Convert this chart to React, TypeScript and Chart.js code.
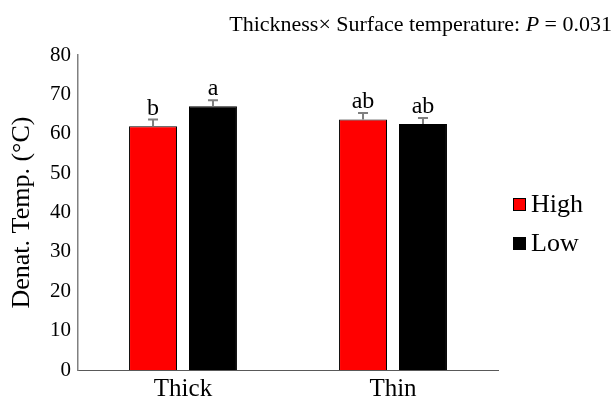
import React, { useEffect, useRef } from "react";
import { Chart, registerables } from "chart.js";

Chart.register(...registerables);

const categories = ["Thick", "Thin"];
const seriesNames = ["High", "Low"];
const highValues = [61.9, 63.6];
const lowValues = [67.0, 62.5];
const highErrors = [1.7, 1.7];
const lowErrors = [1.5, 1.5];
const highLetters = ["b", "ab"];
const lowLetters = ["a", "ab"];
const yTicks = [0, 10, 20, 30, 40, 50, 60, 70, 80];

const FONT = "'Liberation Serif', 'Times New Roman', serif";
const errors = [highErrors, lowErrors];
const letters = [highLetters, lowLetters];

const errorBarPlugin = {
  id: "errorBars",
  afterDatasetsDraw(chart: any) {
    const ctx = chart.ctx;
    const y = chart.scales.y;
    chart.data.datasets.forEach((ds: any, di: number) => {
      const meta = chart.getDatasetMeta(di);
      meta.data.forEach((bar: any, i: number) => {
        const v = ds.data[i];
        const top = y.getPixelForValue(v + errors[di][i]);
        const base = y.getPixelForValue(v);
        ctx.save();
        ctx.strokeStyle = "#7f7f7f";
        ctx.lineWidth = 2;
        ctx.beginPath();
        ctx.moveTo(bar.x, base);
        ctx.lineTo(bar.x, top);
        ctx.moveTo(bar.x - 5, top);
        ctx.lineTo(bar.x + 5, top);
        ctx.stroke();
        ctx.fillStyle = "#000";
        ctx.font = `24px ${FONT}`;
        ctx.textAlign = "center";
        ctx.textBaseline = "alphabetic";
        ctx.fillText(letters[di][i], bar.x, top - 5);
        ctx.restore();
      });
    });
  },
};

const decorPlugin = {
  id: "decor",
  afterDraw(chart: any) {
    const ctx = chart.ctx;
    ctx.save();
    const parts = [
      { t: "Thickness\u00d7 Surface temperature: ", it: false },
      { t: "P", it: true },
      { t: " = 0.031", it: false },
    ];
    let total = 0;
    const widths = parts.map((p) => {
      ctx.font = `${p.it ? "italic " : ""}22px ${FONT}`;
      const w = ctx.measureText(p.t).width;
      total += w;
      return w;
    });
    let x = 612 - total;
    ctx.fillStyle = "#000";
    ctx.textBaseline = "alphabetic";
    ctx.textAlign = "left";
    parts.forEach((p, i) => {
      ctx.font = `${p.it ? "italic " : ""}22px ${FONT}`;
      ctx.fillText(p.t, x, 31);
      x += widths[i];
    });
    chart.data.datasets.forEach((ds: any, i: number) => {
      const by = 198 + i * 39;
      ctx.fillStyle = ds.backgroundColor;
      ctx.fillRect(513, by, 13, 13);
      ctx.strokeStyle = "#000";
      ctx.lineWidth = 1;
      ctx.strokeRect(513.5, by + 0.5, 12, 12);
      ctx.fillStyle = "#000";
      ctx.font = `26px ${FONT}`;
      ctx.textBaseline = "middle";
      ctx.fillText(ds.label, 531, by + 7);
    });
    ctx.restore();
  },
};

export default function App() {
  const ref = useRef<HTMLCanvasElement>(null);
  useEffect(() => {
    const chart = new Chart(ref.current!, {
      type: "bar",
      data: {
        labels: categories,
        datasets: [
          {
            label: seriesNames[0],
            data: highValues,
            backgroundColor: "#ff0000",
            borderColor: "#000000",
            borderWidth: 1,
            barPercentage: 0.8,
            categoryPercentage: 0.571,
          },
          {
            label: seriesNames[1],
            data: lowValues,
            backgroundColor: "#000000",
            borderColor: "#000000",
            borderWidth: 1,
            barPercentage: 0.8,
            categoryPercentage: 0.571,
          },
        ],
      },
      options: {
        responsive: false,
        animation: false,
        devicePixelRatio: 1,
        layout: { padding: { top: 55, right: 118, left: 0, bottom: 0 } },
        plugins: { legend: { display: false }, tooltip: { enabled: false }, title: { display: false } },
        scales: {
          x: {
            grid: { display: false, drawTicks: false },
            border: { color: "#595959", width: 1 },
            ticks: { color: "#000", font: { family: FONT, size: 25 }, padding: 4 },
            afterFit(scale: any) {
              scale.height = 31;
            },
          },
          y: {
            min: 0,
            max: 80,
            afterBuildTicks(scale: any) {
              scale.ticks = yTicks.map((v) => ({ value: v }));
            },
            grid: { display: false, drawTicks: false },
            border: { color: "#808080", width: 1.5 },
            ticks: { color: "#000", font: { family: FONT, size: 21 }, padding: 7 },
            title: {
              display: true,
              text: "Denat. Temp. (\u00b0C)",
              color: "#000",
              font: { family: FONT, size: 26 },
              padding: { top: 7, bottom: 0 },
            },
            afterFit(scale: any) {
              scale.width = 78;
            },
          },
        },
      },
      plugins: [errorBarPlugin, decorPlugin],
    });
    return () => chart.destroy();
  }, []);
  return (
    <div style={{ position: "fixed", left: 0, top: 0, width: 616, height: 401, background: "#fff" }}>
      <canvas ref={ref} width={616} height={401} />
    </div>
  );
}
